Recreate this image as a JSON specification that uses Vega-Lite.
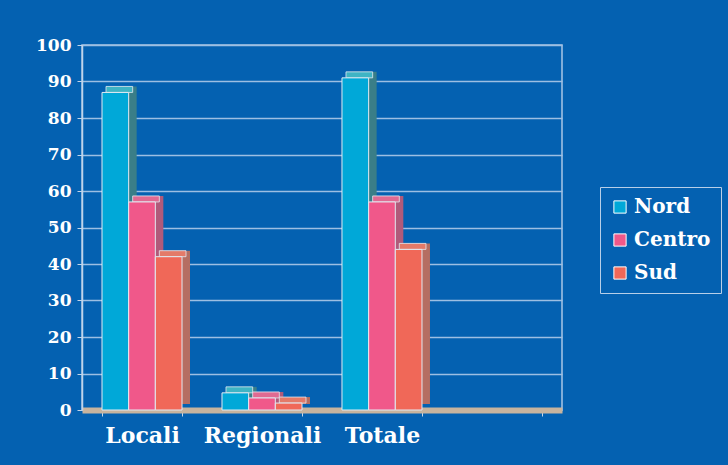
{
  "$schema": "https://vega.github.io/schema/vega-lite/v6.json",
  "width": 480,
  "height": 365,
  "autosize": {"type": "none"},
  "padding": {"left": 82, "top": 45, "right": 166, "bottom": 55},
  "background": "#0461b1",
  "data": {
    "values": [
      {"categoria": "Locali", "zona": "Nord", "valore": 87},
      {"categoria": "Locali", "zona": "Centro", "valore": 57},
      {"categoria": "Locali", "zona": "Sud", "valore": 42},
      {"categoria": "Regionali", "zona": "Nord", "valore": 4.7},
      {"categoria": "Regionali", "zona": "Centro", "valore": 3.3},
      {"categoria": "Regionali", "zona": "Sud", "valore": 1.9},
      {"categoria": "Totale", "zona": "Nord", "valore": 91},
      {"categoria": "Totale", "zona": "Centro", "valore": 57},
      {"categoria": "Totale", "zona": "Sud", "valore": 44}
    ]
  },
  "encoding": {
    "x": {
      "field": "categoria",
      "type": "nominal",
      "title": null,
      "scale": {"domain": ["Locali", "Regionali", "Totale", " "], "paddingInner": 0.333, "paddingOuter": 0.1667},
      "axis": {
        "labelAngle": 0,
        "labelFont": "DejaVu Serif",
        "labelFontWeight": "bold",
        "labelFontSize": 22,
        "labelColor": "#ffffff",
        "labelPadding": 9,
        "domainColor": "#c8b49e",
        "domainWidth": 6,
        "tickBand": "extent",
        "tickColor": "#c8d8e8",
        "tickSize": 6,
        "grid": false
      }
    },
    "y": {
      "field": "valore",
      "type": "quantitative",
      "title": null,
      "scale": {"domain": [0, 100]},
      "axis": {
        "values": [0, 10, 20, 30, 40, 50, 60, 70, 80, 90, 100],
        "grid": true,
        "gridColor": "#9dbfe3",
        "gridWidth": 1.5,
        "domainColor": "#c0d4ea",
        "domainWidth": 1.5,
        "tickColor": "#c0d4ea",
        "tickSize": 5,
        "labelFont": "DejaVu Serif",
        "labelFontWeight": "bold",
        "labelFontSize": 17,
        "labelColor": "#ffffff",
        "labelPadding": 6
      }
    }
  },
  "layer": [
    {
      "mark": {"type": "bar", "yOffset": -6, "y2Offset": -6},
      "encoding": {
        "xOffset": {
          "field": "zona",
          "type": "nominal",
          "scale": {"domain": ["Nord", "Centro", "Sud"], "range": [8, 88], "paddingInner": 0, "paddingOuter": 0}
        },
        "color": {
          "field": "zona",
          "type": "nominal",
          "scale": {"domain": ["Nord", "Centro", "Sud"], "range": ["#3a7e88", "#b05a7a", "#b56e62"]},
          "legend": null
        }
      }
    },
    {
      "mark": {"type": "bar", "yOffset": -6, "y2Offset": 0, "stroke": "#e2eaf2", "strokeWidth": 0.8},
      "encoding": {
        "y2": {"field": "valore"},
        "xOffset": {
          "field": "zona",
          "type": "nominal",
          "scale": {"domain": ["Nord", "Centro", "Sud"], "range": [4, 84], "paddingInner": 0, "paddingOuter": 0}
        },
        "color": {
          "field": "zona",
          "type": "nominal",
          "scale": {"domain": ["Nord", "Centro", "Sud"], "range": ["#3fb4c4", "#e06a92", "#e47a68"]},
          "legend": null
        }
      }
    },
    {
      "mark": {"type": "bar", "stroke": "#e2eaf2", "strokeWidth": 1},
      "encoding": {
        "xOffset": {
          "field": "zona",
          "type": "nominal",
          "scale": {"domain": ["Nord", "Centro", "Sud"], "range": [0, 80], "paddingInner": 0, "paddingOuter": 0}
        },
        "color": {
          "field": "zona",
          "type": "nominal",
          "scale": {"domain": ["Nord", "Centro", "Sud"], "range": ["#00a8d8", "#f0588a", "#f06858"]},
          "legend": {
            "title": null,
            "orient": "none",
            "legendX": 518,
            "legendY": 142,
            "strokeColor": "#b8cfe8",
            "padding": 10,
            "symbolType": "square",
            "symbolSize": 150,
            "symbolStrokeColor": "#ffffff",
            "symbolStrokeWidth": 1,
            "symbolOpacity": 1,
            "labelFont": "DejaVu Serif",
            "labelFontWeight": "bold",
            "labelFontSize": 20,
            "labelColor": "#ffffff",
            "rowPadding": 13
          }
        }
      }
    }
  ],
  "resolve": {"scale": {"color": "independent", "xOffset": "independent"}},
  "config": {
    "view": {"stroke": "#a9c6e6", "strokeWidth": 1.5}
  }
}
